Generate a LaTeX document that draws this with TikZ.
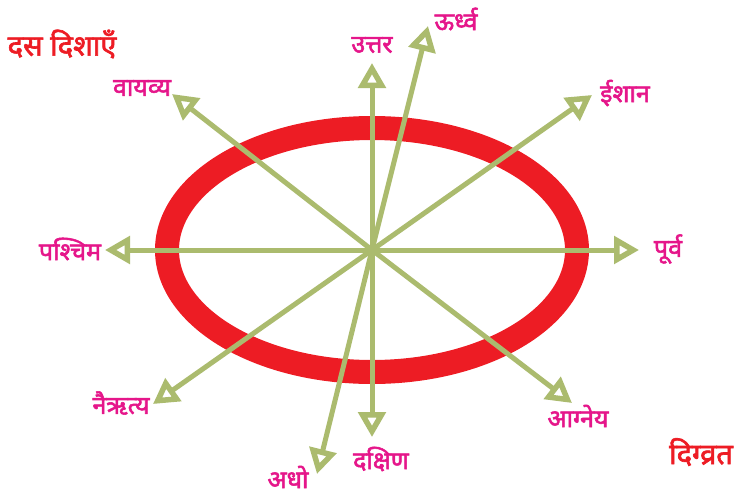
\documentclass[tikz,border=0pt]{standalone}
\usepackage{fontspec}
\newfontfamily\deva[Script=Devanagari, FakeBold=2.2]{Noto Sans}
\usetikzlibrary{arrows.meta}
\definecolor{olive}{HTML}{ABBB6E}
\definecolor{mag}{HTML}{E5168A}
\definecolor{ered}{HTML}{ED1C24}
\tikzset{
  dirarrow/.style={draw=olive, line width=5pt, -{Triangle[open, length=25pt, width=27pt, line width=5.5pt, fill=white]}},
  dirlabel/.style={text=mag, font=\deva\fontsize{25}{28}\selectfont, inner sep=0pt},
  titlelabel/.style={text=ered, font=\deva\fontsize{29}{33}\selectfont, inner sep=0pt}
}
\begin{document}
\begin{tikzpicture}[x=1pt, y=-1pt]
\useasboundingbox (0,0) rectangle (740,496);
\coordinate (c) at (372,250);
\draw[ered, line width=24pt] (c) ellipse [x radius=205pt, y radius=122pt];
\coordinate (tN) at (372,63);
\coordinate (tU) at (428,26);
\coordinate (tNE) at (592,95);
\coordinate (tE) at (639,250);
\coordinate (tSE) at (572,403);
\coordinate (tS) at (372,437);
\coordinate (tD) at (317,474);
\coordinate (tSW) at (153,404);
\coordinate (tW) at (105,250);
\coordinate (tNW) at (172,94);
\foreach \t in {tN,tU,tNE,tE,tSE,tS,tD,tSW,tW,tNW}
  \draw[dirarrow] (c) -- (\t);
\node[dirlabel] (lN) at (372,45) {उत्तर};
\node[dirlabel] (lU) at (456,19) {ऊर्ध्व};
\node[dirlabel] (lNE) at (625,93) {ईशान};
\node[dirlabel] (lE) at (668,249) {पूर्व};
\node[dirlabel] (lSE) at (578,416) {आग्नेय};
\node[dirlabel] (lS) at (381,459) {दक्षिण};
\node[dirlabel] (lD) at (288,477) {अधो};
\node[dirlabel] (lSW) at (121,403) {नैऋत्य};
\node[dirlabel] (lW) at (70,249) {पश्चिम};
\node[dirlabel] (lNW) at (142,88) {वायव्य};
\node[titlelabel] (title) at (62,44) {दस दिशाएँ};
\node[titlelabel] (vrat) at (701,452) {दिग्व्रत};
\end{tikzpicture}
\end{document}
